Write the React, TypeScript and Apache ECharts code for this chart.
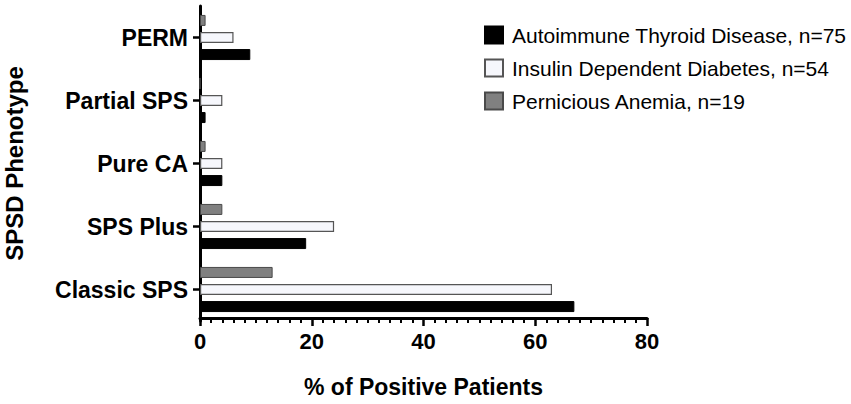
import React, { useEffect, useRef } from "react";
import * as echarts from "echarts";

const categories = ["Classic SPS", "SPS Plus", "Pure CA", "Partial SPS", "PERM"];
const seriesNames = [
  "Autoimmune Thyroid Disease, n=75",
  "Insulin Dependent Diabetes, n=54",
  "Pernicious Anemia, n=19",
];
const thyroid = [67, 19, 4, 1, 9];
const diabetes = [63, 24, 4, 4, 6];
const anemia = [13, 4, 1, 0, 1];
const xTicks = [0, 20, 40, 60, 80];

const FONT = "'Liberation Sans', Arial, Helvetica, sans-serif";

export default function App() {
  const ref = useRef<HTMLDivElement>(null);
  useEffect(() => {
    if (!ref.current) return;
    const chart = echarts.init(ref.current, undefined, { renderer: "svg" });
    const styles = [
      { color: "#000000", borderColor: "#000000", borderWidth: 1 },
      { color: "#f6f7fc", borderColor: "#555555", borderWidth: 1.2 },
      { color: "#808080", borderColor: "#4a4a4a", borderWidth: 1 },
    ];
    const data = [thyroid, diabetes, anemia];
    // ECharts draws the first series at the top of each group; the reference has it at the bottom
    const order = [2, 1, 0];
    chart.setOption({
      animation: false,
      backgroundColor: "#ffffff",
      textStyle: { fontFamily: FONT },
      grid: {
        left: 200,
        right: 204,
        top: 6,
        bottom: 83,
        containLabel: false,
        outerBoundsMode: "none",
      },
      legend: {
        orient: "vertical",
        left: 484,
        top: 23,
        padding: 0,
        itemWidth: 18,
        itemHeight: 17,
        itemGap: 9,
        icon: "rect",
        data: seriesNames,
        textStyle: {
          fontSize: 21,
          lineHeight: 24,
          color: "#000",
          fontFamily: FONT,
          padding: [0, 0, 0, 4],
        },
      },
      xAxis: {
        type: "value",
        min: xTicks[0],
        max: xTicks[xTicks.length - 1],
        interval: 20,
        offset: -3,
        name: "% of Positive Patients",
        nameLocation: "middle",
        nameGap: 57,
        nameTextStyle: { fontSize: 23, fontWeight: "bold", color: "#000", fontFamily: FONT },
        axisLine: { show: true, lineStyle: { color: "#000", width: 3 } },
        axisTick: { show: true, length: 8, lineStyle: { color: "#000", width: 2.5 } },
        minorTick: { show: true, splitNumber: 10, length: 5, lineStyle: { color: "#000", width: 2 } },
        splitLine: { show: false },
        axisLabel: { fontSize: 22, fontWeight: "bold", color: "#000", margin: 12, fontFamily: FONT },
      },
      yAxis: {
        type: "category",
        data: categories,
        name: "SPSD Phenotype",
        nameLocation: "middle",
        nameRotate: 90,
        nameGap: 174,
        nameTextStyle: { fontSize: 24, fontWeight: "bold", color: "#000", fontFamily: FONT },
        axisLine: { show: true, lineStyle: { color: "#000", width: 3 } },
        axisTick: { show: true, alignWithLabel: true, length: 7, lineStyle: { color: "#000", width: 2.5 } },
        axisLabel: { fontSize: 23, fontWeight: "bold", color: "#000", margin: 12, fontFamily: FONT },
        splitLine: { show: false },
      },
      series: order.map((i) => ({
        name: seriesNames[i],
        type: "bar",
        data: data[i],
        barWidth: 11,
        barGap: "55%",
        itemStyle: styles[i],
      })),
    });
    return () => chart.dispose();
  }, []);
  return (
    <div
      ref={ref}
      style={{ position: "fixed", left: 0, top: 0, width: 851, height: 404, background: "#fff" }}
    />
  );
}
